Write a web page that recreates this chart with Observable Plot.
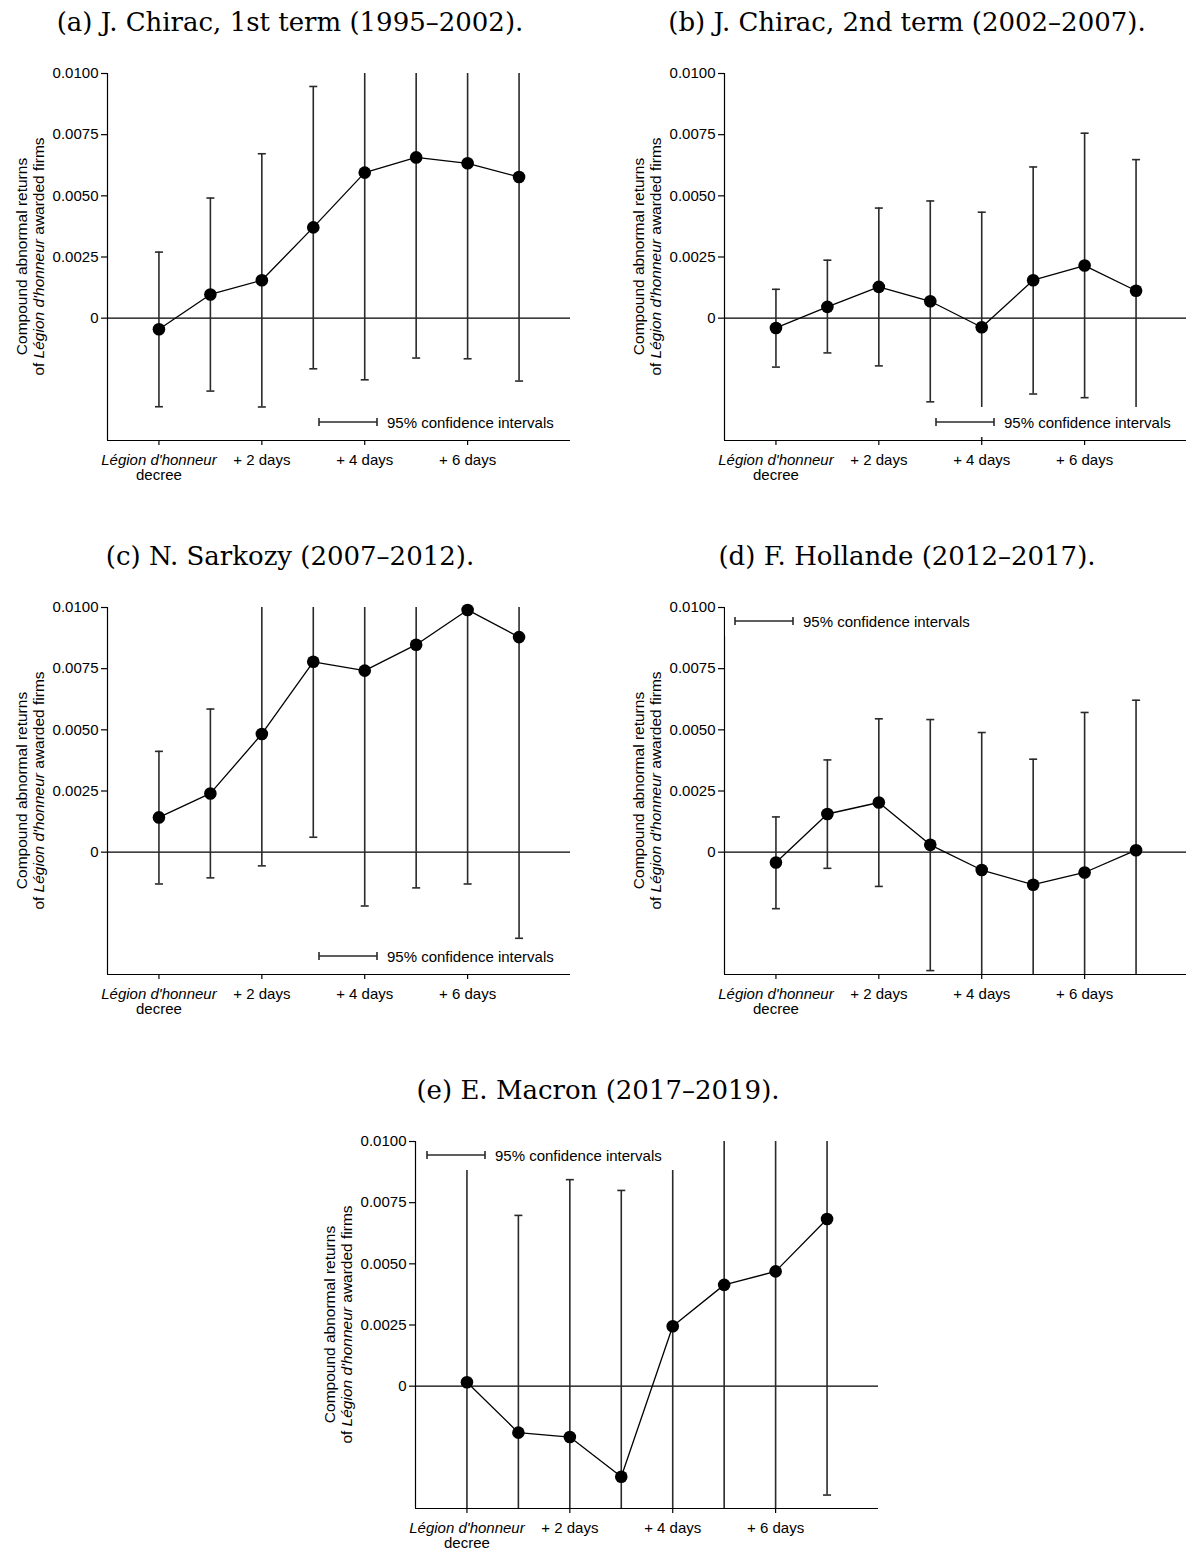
<!DOCTYPE html>
<html>
<head>
<meta charset="utf-8">
<script src="https://cdn.jsdelivr.net/npm/d3@7"></script>
<script src="https://cdn.jsdelivr.net/npm/@observablehq/plot@0.6"></script>
<style>
  html, body { margin: 0; padding: 0; background: white; overflow: hidden; }
  #root { position: relative; width: 1186px; height: 1549px; overflow: hidden; background: white; }
  .ttl { position: absolute; width: 580px; text-align: center; font-family: "DejaVu Serif", "Liberation Serif", serif; font-size: 26px; line-height: 34px; color: black; white-space: nowrap; }
  .pan { position: absolute; width: 590px; height: 460px; }
  .pan svg { max-width: none !important; }
</style>
</head>
<body>
<div id="root"></div>
<script>
// ---- data ----
const days = [0, 1, 2, 3, 4, 5, 6, 7];
const xTickValues = [0, 2, 4, 6];
const xTickLabels = ["Légion d'honneur|decree", "+ 2 days", "+ 4 days", "+ 6 days"];
const yTickValues = [0, 0.0025, 0.005, 0.0075, 0.01];
const yTickLabels = ["0", "0.0025", "0.0050", "0.0075", "0.0100"];
const legendLabel = "95% confidence intervals";

const titleA = "(a) J. Chirac, 1st term (1995–2002).";
const estA = [-0.00045, 0.00097, 0.00155, 0.00371, 0.00595, 0.00657, 0.00633, 0.00577];
const loA  = [-0.00362, -0.00298, -0.00363, -0.00207, -0.00252, -0.00163, -0.00166, -0.00257];
const hiA  = [0.0027, 0.00491, 0.00672, 0.00947, 0.0144, 0.0148, 0.0143, 0.0141];

const titleB = "(b) J. Chirac, 2nd term (2002–2007).";
const estB = [-0.0004, 0.00046, 0.00128, 0.00069, -0.00037, 0.00155, 0.00215, 0.00112];
const loB  = [-0.002, -0.00142, -0.00195, -0.00342, -0.0051, -0.0031, -0.00325, -0.00424];
const hiB  = [0.00118, 0.00237, 0.0045, 0.00479, 0.00433, 0.00618, 0.00756, 0.00648];

const titleC = "(c) N. Sarkozy (2007–2012).";
const estC = [0.00142, 0.0024, 0.00483, 0.00778, 0.00742, 0.00848, 0.0099, 0.00879];
const loC  = [-0.0013, -0.00105, -0.00056, 0.00061, -0.0022, -0.00146, -0.0013, -0.00352];
const hiC  = [0.00412, 0.00585, 0.0102, 0.0150, 0.0170, 0.0184, 0.0211, 0.0211];

const titleD = "(d) F. Hollande (2012–2017).";
const estD = [-0.00042, 0.00156, 0.00203, 0.0003, -0.00073, -0.00133, -0.00083, 0.00008];
const loD  = [-0.00231, -0.00066, -0.0014, -0.00484, -0.00635, -0.00646, -0.00737, -0.00605];
const hiD  = [0.00144, 0.00377, 0.00545, 0.00542, 0.00489, 0.0038, 0.00571, 0.00621];

const titleE = "(e) E. Macron (2017–2019).";
const estE = [0.00016, -0.0019, -0.00208, -0.0037, 0.00245, 0.00414, 0.00469, 0.00683];
const loE  = [-0.0105, -0.0108, -0.0126, -0.0154, -0.0076, -0.0057, -0.0054, -0.00445];
const hiE  = [0.0105, 0.00698, 0.00844, 0.0080, 0.0125, 0.0140, 0.0148, 0.0181];

// ---- layout ----
const panels = [
  {title: titleA, est: estA, lo: loA, hi: hiA, ox: 0,   oy: 0,    legend: [319, 377]},
  {title: titleB, est: estB, lo: loB, hi: hiB, ox: 617, oy: 0,    legend: [319, 377]},
  {title: titleC, est: estC, lo: loC, hi: hiC, ox: 0,   oy: 534,  legend: [319, 377]},
  {title: titleD, est: estD, lo: loD, hi: hiD, ox: 617, oy: 534,  legend: [118, 42]},
  {title: titleE, est: estE, lo: loE, hi: hiE, ox: 308, oy: 1068, legend: [119, 42]}
];

const yDomain = [-0.005, 0.01];
const capSymbol = {
  draw(ctx, size) {
    const r = Math.sqrt(size / Math.PI);
    ctx.moveTo(-r, 0);
    ctx.lineTo(r, 0);
  }
};
const FONT = "'Liberation Sans', Arial, Helvetica, sans-serif";
const root = document.getElementById("root");

for (const p of panels) {
  const data = days.map((d, i) => ({day: d, est: p.est[i], lo: p.lo[i], hi: p.hi[i]}));
  const inDom = v => v >= yDomain[0] && v <= yDomain[1];
  const lab0 = xTickLabels[0].split("|");

  const plot = Plot.plot({
    width: 590,
    height: 460,
    marginLeft: 107,
    marginRight: 20,
    marginTop: 28,
    marginBottom: 65,
    x: {domain: [-1, 8]},
    y: {domain: yDomain},
    style: {fontFamily: FONT, fontSize: "15px", color: "black", background: "white", overflow: "visible", maxWidth: "none"},
    marks: [
      Plot.ruleY([0], {stroke: "black", strokeWidth: 1.3}),
      Plot.ruleX(data, {x: "day", y1: "lo", y2: "hi", stroke: "#2a2a2a", strokeWidth: 1.6, clip: true}),
      Plot.dot(data.filter(d => inDom(d.hi)), {x: "day", y: "hi", symbol: capSymbol, r: 4, fill: "none", stroke: "#2a2a2a", strokeWidth: 1.6}),
      Plot.dot(data.filter(d => inDom(d.lo)), {x: "day", y: "lo", symbol: capSymbol, r: 4, fill: "none", stroke: "#2a2a2a", strokeWidth: 1.6}),
      Plot.line(data, {x: "day", y: "est", stroke: "black", strokeWidth: 1.3}),
      Plot.dot(data, {x: "day", y: "est", r: 6.3, fill: "black", stroke: "none"}),
      Plot.ruleX([-1], {stroke: "black", strokeWidth: 1.2}),
      Plot.ruleY([yDomain[0]], {stroke: "black", strokeWidth: 1.2}),
      Plot.axisY({ticks: yTickValues, tickFormat: d => yTickLabels[yTickValues.indexOf(d)], tickSize: 6, tickPadding: 3, label: null, strokeWidth: 1.2}),
      Plot.axisX({ticks: xTickValues, tickFormat: d => { const i = xTickValues.indexOf(d); return i === 0 ? "" : xTickLabels[i]; }, tickSize: 5, tickPadding: 9, label: null, strokeWidth: 1.2}),
      Plot.text([xTickValues[0]], {x: d => d, frameAnchor: "bottom", dy: 24, text: () => lab0[0], fontStyle: "italic"}),
      Plot.text([xTickValues[0]], {x: d => d, frameAnchor: "bottom", dy: 39, text: () => lab0[1]})
    ]
  });

  const svg = d3.select(plot);
  // y-axis label (two lines, rotated)
  const cy = (28 + (460 - 65)) / 2;
  const yl = svg.append("g").attr("font-family", FONT).attr("font-size", "15.5px").attr("fill", "black").attr("text-anchor", "middle");
  yl.append("text").attr("transform", `translate(21,${cy}) rotate(-90)`).attr("dominant-baseline", "central").text("Compound abnormal returns");
  const t2 = yl.append("text").attr("transform", `translate(38,${cy}) rotate(-90)`).attr("dominant-baseline", "central");
  t2.append("tspan").text("of ");
  t2.append("tspan").attr("font-style", "italic").text("Légion d'honneur");
  t2.append("tspan").text(" awarded firms");

  // legend
  const [lx, ly] = p.legend;
  const lg = svg.append("g");
  lg.append("rect").attr("x", lx - 10).attr("y", ly - 15).attr("width", 260).attr("height", 30).attr("fill", "white");
  lg.append("line").attr("x1", lx).attr("x2", lx + 58).attr("y1", ly).attr("y2", ly).attr("stroke", "#2a2a2a").attr("stroke-width", 1.6);
  lg.append("line").attr("x1", lx).attr("x2", lx).attr("y1", ly - 4).attr("y2", ly + 4).attr("stroke", "#2a2a2a").attr("stroke-width", 1.6);
  lg.append("line").attr("x1", lx + 58).attr("x2", lx + 58).attr("y1", ly - 4).attr("y2", ly + 4).attr("stroke", "#2a2a2a").attr("stroke-width", 1.6);
  lg.append("text").attr("x", lx + 68).attr("y", ly).attr("text-anchor", "start").attr("dominant-baseline", "central").attr("font-family", FONT).attr("font-size", "15px").attr("fill", "black").text(legendLabel);

  const wrap = document.createElement("div");
  wrap.className = "pan";
  wrap.style.left = p.ox + "px";
  wrap.style.top = (p.oy + 45) + "px";
  wrap.appendChild(plot);
  root.appendChild(wrap);

  const t = document.createElement("div");
  t.className = "ttl";
  t.style.left = p.ox + "px";
  t.style.top = (p.oy + 5) + "px";
  t.textContent = p.title;
  root.appendChild(t);
}
</script>
</body>
</html>
